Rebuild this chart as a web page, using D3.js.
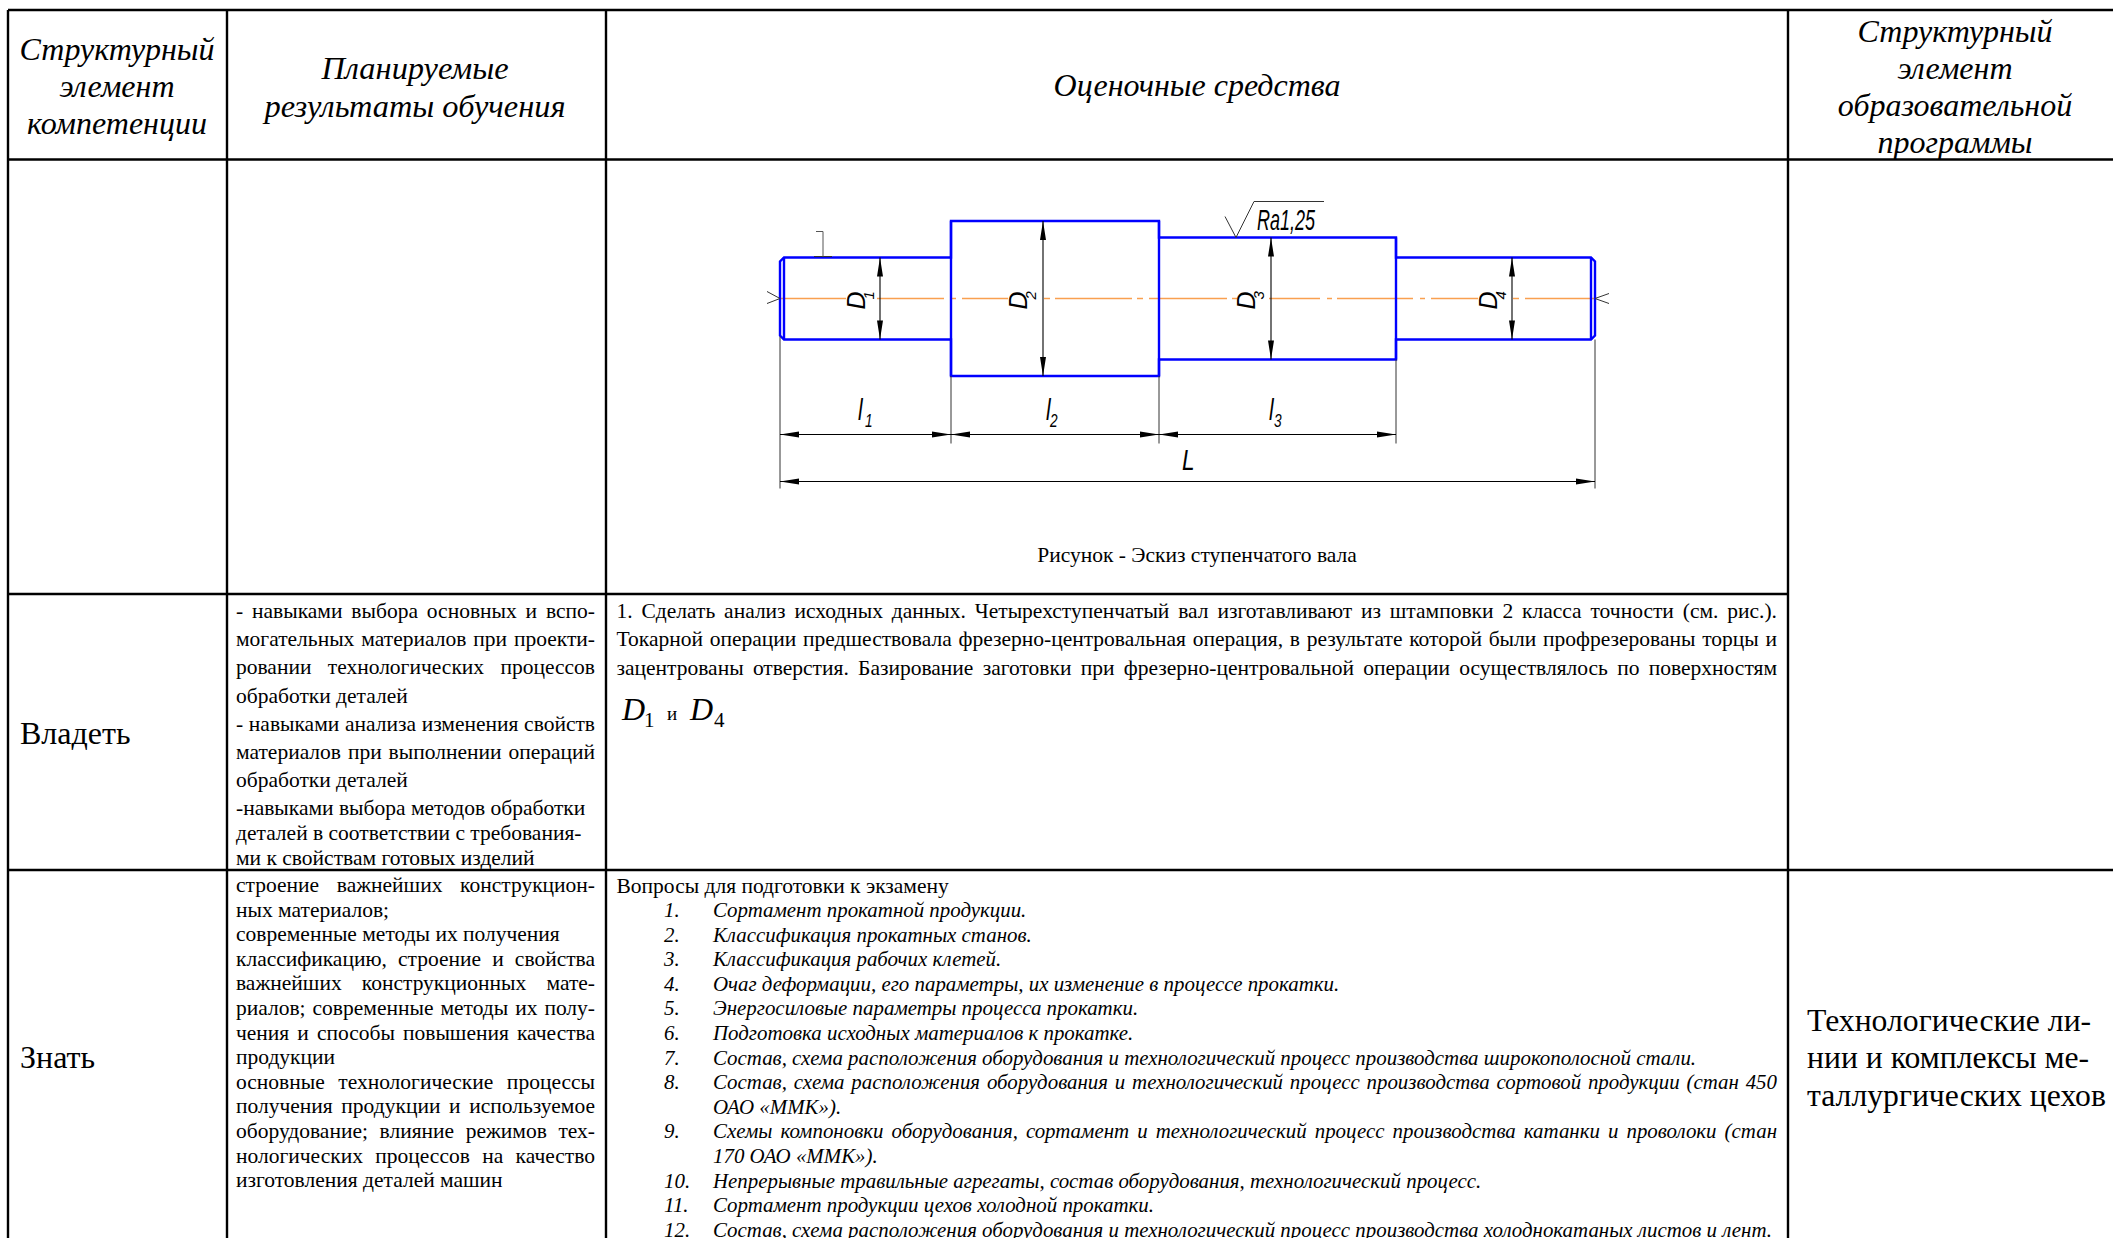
<!DOCTYPE html>
<html><head><meta charset="utf-8">
<script src="https://cdnjs.cloudflare.com/ajax/libs/d3/7.8.5/d3.min.js"></script>
<style>html,body{margin:0;padding:0;background:#fff}svg{display:block}text{font-family:"Liberation Serif","Times New Roman",serif;fill:#000}</style>
</head><body><svg id="c" width="2113" height="1238"></svg>
<script>
// ---------- table text ----------
const headerElement = ["Структурный","элемент","компетенции"];
const headerResults = ["Планируемые","результаты обучения"];
const headerTools = ["Оценочные средства"];
const headerProgram = ["Структурный","элемент","образовательной","программы"];
const rowNames = ["Владеть","Знать"];
const ownResults = ["- навыками выбора основных и вспо-","могательных материалов при проекти-","ровании технологических процессов","обработки деталей","- навыками анализа изменения свойств","материалов при выполнении операций","обработки деталей","-навыками выбора методов обработки","деталей в соответствии с требования-","ми к свойствам готовых изделий"];
const ownResultsJustified = [0,1,2,4,5];
const ownTask = ["1. Сделать анализ исходных данных. Четырехступенчатый вал изготавливают  из штамповки 2 класса точности (см. рис.).","Токарной операции предшествовала фрезерно-центровальная операция, в результате которой были профрезерованы торцы и","зацентрованы отверстия. Базирование заготовки при фрезерно-центровальной операции осуществлялось по поверхностям"];
const knowResults = ["строение важнейших конструкцион-","ных материалов;","современные методы их получения","классификацию, строение и свойства","важнейших конструкционных мате-","риалов; современные методы их полу-","чения и способы повышения качества","продукции","основные технологические процессы","получения продукции и используемое","оборудование; влияние режимов тех-","нологических процессов на качество","изготовления деталей машин"];
const knowResultsJustified = [0,3,4,5,6,8,9,10,11];
const questionsTitle = "Вопросы для подготовки к экзамену";
const questionNumbers = ["1.","2.","3.","4.","5.","6.","7.","8.","","9.","","10.","11.","12."];
const questionLines = ["Сортамент прокатной продукции.","Классификация прокатных станов.","Классификация рабочих клетей.","Очаг деформации, его параметры, их изменение в процессе прокатки.","Энергосиловые параметры процесса прокатки.","Подготовка исходных материалов к прокатке.","Состав, схема расположения оборудования и технологический процесс производства широкополосной стали.","Состав, схема расположения оборудования и технологический процесс производства сортовой продукции (стан 450","ОАО «ММК»).","Схемы компоновки оборудования, сортамент и технологический процесс производства катанки и проволоки (стан","170 ОАО «ММК»).","Непрерывные травильные агрегаты, состав оборудования, технологический процесс.","Сортамент продукции цехов холодной прокатки.","Состав, схема расположения оборудования и технологический процесс производства холоднокатаных листов и лент."];
const questionJustified = [7,9];
const programCell = ["Технологические ли-","нии и комплексы ме-","таллургических цехов"];
const figureCaption = "Рисунок - Эскиз ступенчатого вала";
// ---------- shaft drawing data (drawing units) ----------
const shaftStations = [0,171,379,616,815];
const shaftDiameters = [82,155,122,82];
const dimMarkOffsets = [100,263,491,732];
const stepLabels = ["1","2","3","4"];
const diameterLabelOffsets = [85,247,475,717];
const lengthLabels = ["1","2","3"];
const lengthLabelOffsets = [78,266,489];
const centerDashes = [[0,66],[97,164],[172,176],[182,228],[264,270],[275,352],[357,363],[369,447],[452,457],[489,540],[547,552],[557,633],[640,645],[651,698],[733,739],[745,815]];
const ChamferSize = 4;
// ---------- layout ----------
const W=2113,H=1238;
const colX=[8,227,606,1788], rowY=[10,159.5,594,870];
const svg=d3.select("#c");
const x=d3.scaleLinear().domain([0,815]).range([780,1595]);
const y=d3.scaleLinear().domain([-100,100]).range([198.5,398.5]);
const BLUE="#0000ff", ORANGE="#f9a050";

function block(lines,o){
  const g=svg.append("g").attr("font-size",o.size).attr("font-style",o.italic?"italic":null);
  g.selectAll("text").data(lines).join("text")
   .attr("x",o.x)
   .attr("y",(d,i)=>o.ys?o.ys[i]:o.y+i*o.step)
   .attr("text-anchor",o.anchor||"start")
   .text(d=>d)
   .each(function(d,i){
     if(o.justify&&o.justify.includes(i)&&o.width){
       const gaps=d.trim().split(/\s+/).length-1;
       const len=this.getComputedTextLength();
       if(gaps>0) d3.select(this).style("word-spacing",((o.width-len)/gaps)+"px");
     }
   });
  return g;
}
// table rules
const rules=svg.append("g").attr("stroke","#000").attr("stroke-width",2.4);
const hRules=[[colX[0],W,rowY[0]],[colX[0],W,rowY[1]],[colX[0],colX[3],rowY[2]],[colX[0],W,rowY[3]]];
rules.selectAll(".h").data(hRules).join("line").attr("x1",d=>d[0]).attr("x2",d=>d[1]).attr("y1",d=>d[2]).attr("y2",d=>d[2]);
rules.selectAll(".v").data(colX).join("line").attr("x1",d=>d).attr("x2",d=>d).attr("y1",rowY[0]).attr("y2",H);
// headers
block(headerElement,{x:117,y:60,step:37,size:32,italic:true,anchor:"middle"});
block(headerResults,{x:415,y:79,step:38,size:32.4,italic:true,anchor:"middle"});
block(headerTools,{x:1197,y:96,step:0,size:32,italic:true,anchor:"middle"});
block(headerProgram,{x:1955,y:42,step:37,size:32,italic:true,anchor:"middle"});
// row names
block([rowNames[0]],{x:20,y:744,step:0,size:32});
block([rowNames[1]],{x:20,y:1068,step:0,size:32});
// results
const BODY=21.5, ITAL=20.9;
block(ownResults,{x:236,ys:[618,646,674,703,731,759,787,815,840,865],size:BODY,justify:ownResultsJustified,width:359});
block(knowResults,{x:236,y:892,step:24.6,size:BODY,justify:knowResultsJustified,width:359});
// tools cell
block(ownTask,{x:616.5,y:618,step:28.3,size:BODY,justify:[0,1,2],width:1160.5});
const f=svg.append("g");
[["D",622,32,720,true],["1",644,21,727],["и",667,19,720],["D",690,32,720,true],["4",714,21,727]].forEach(a=>{
  f.append("text").attr("x",a[1]).attr("y",a[3]).attr("font-size",a[2]).attr("font-style",a[4]?"italic":null).text(a[0]);
});
block([figureCaption],{x:1197,y:562,step:0,size:BODY,anchor:"middle"});
block([questionsTitle],{x:616.5,y:893,step:0,size:BODY});
block(questionNumbers,{x:664,y:917,step:24.6,size:ITAL,italic:true});
block(questionLines,{x:713,y:917,step:24.6,size:ITAL,italic:true,justify:questionJustified,width:1064});
block(programCell,{x:1807,y:1031,step:37.4,size:31.7});

// ---------- shaft ----------
const d=svg.append("g");
const half=i=>shaftDiameters[i]/2;
const L=shaftStations[4];
d.append("g").attr("stroke",ORANGE).attr("stroke-width",1.5).selectAll("line").data(centerDashes).join("line")
 .attr("x1",s=>x(s[0])).attr("x2",s=>x(s[1])).attr("y1",y(0)).attr("y2",y(0));
const outline=d3.path();
outline.moveTo(x(ChamferSize),y(-half(0)));
shaftDiameters.forEach((dm,i)=>{
  const h=dm/2;
  const x0=shaftStations[i], x1=shaftStations[i+1];
  if(i>0){outline.lineTo(x(x0),y(-h));}
  if(i<3){outline.lineTo(x(x1),y(-h));}
});
outline.lineTo(x(L-ChamferSize),y(-half(3)));
outline.lineTo(x(L),y(-half(3)+ChamferSize));
outline.lineTo(x(L),y(half(3)-ChamferSize));
outline.lineTo(x(L-ChamferSize),y(half(3)));
for(let i=3;i>=0;i--){
  const h=half(i);
  if(i<3) outline.lineTo(x(shaftStations[i+1]),y(h));
  if(i>0) outline.lineTo(x(shaftStations[i]),y(h));
}
outline.lineTo(x(ChamferSize),y(half(0)));
outline.lineTo(x(0),y(half(0)-ChamferSize));
outline.lineTo(x(0),y(-half(0)+ChamferSize));
outline.closePath();
d.append("path").attr("d",outline.toString()).attr("fill","none").attr("stroke",BLUE).attr("stroke-width",2.4);
const innerLines=[[shaftStations[1],half(1)],[shaftStations[2],half(1)],[shaftStations[3],half(2)],[ChamferSize,half(0)],[L-ChamferSize,half(3)]];
d.append("g").attr("stroke",BLUE).attr("stroke-width",2.4).selectAll("line").data(innerLines).join("line")
 .attr("x1",s=>x(s[0])).attr("x2",s=>x(s[0])).attr("y1",s=>y(-s[1])).attr("y2",s=>y(s[1]));
const dimY1=136, dimY2=183;
const ext=[[0,half(0)-3,dimY2+7],[shaftStations[1],half(1),dimY1+9],[shaftStations[2],half(1),dimY1+9],[shaftStations[3],half(2),dimY1+9],[L,half(3),dimY2+7]];
d.append("g").attr("stroke","#333").attr("stroke-width",1).selectAll("line").data(ext).join("line")
 .attr("x1",s=>x(s[0])).attr("x2",s=>x(s[0])).attr("y1",s=>y(s[1])).attr("y2",s=>y(s[2]));
const ah=19, aw=3;
function arrowH(px,py,dir){return `M${px},${py}L${px+dir*ah},${py-aw}L${px+dir*ah},${py+aw}Z`;}
function arrowV(px,py,dir){return `M${px},${py}L${px-aw},${py+dir*ah}L${px+aw},${py+dir*ah}Z`;}
const hDims=[[0,shaftStations[1],dimY1],[shaftStations[1],shaftStations[2],dimY1],[shaftStations[2],shaftStations[3],dimY1],[0,L,dimY2]];
const dimG=d.append("g");
hDims.forEach(s=>{
  dimG.append("line").attr("x1",x(s[0])).attr("x2",x(s[1])).attr("y1",y(s[2])).attr("y2",y(s[2])).attr("stroke","#000").attr("stroke-width",1.1);
  dimG.append("path").attr("d",arrowH(x(s[0]),y(s[2]),1)+arrowH(x(s[1]),y(s[2]),-1));
});
dimMarkOffsets.forEach((m,i)=>{
  const h=half(i);
  dimG.append("line").attr("x1",x(m)).attr("x2",x(m)).attr("y1",y(-h)).attr("y2",y(h)).attr("stroke","#000").attr("stroke-width",1.1);
  dimG.append("path").attr("d",arrowV(x(m),y(-h),1)+arrowV(x(m),y(h),-1));
});
const sans=`"Liberation Sans",Arial,sans-serif`;
function lbl(t,px,py,size,rot,sx){
  return d.append("text").style("font-family",sans).attr("font-style","italic").attr("font-size",size)
   .attr("transform",`translate(${px},${py})`+(rot?` rotate(${rot})`:"")+(sx?` scale(${sx},1)`:"")).text(t);
}
diameterLabelOffsets.forEach((m,i)=>{
  lbl("D",x(m),y(11),25,-90);
  lbl(stepLabels[i],x(m)+9,y(1),15,-90);
});
lengthLabelOffsets.forEach((m,i)=>{
  lbl("l",x(m),y(121),29,0,0.72);
  lbl(lengthLabels[i],x(m)+(i===0?7:3+i),y(128),19,0,0.72);
});
lbl("L",x(402),y(171),29,0,0.78);
lbl("Ra1,25",x(477),y(-69),29).attr("textLength",58).attr("lengthAdjust","spacingAndGlyphs");
const line=d3.line().x(p=>x(p[0])).y(p=>y(p[1]));
const marks=[
 {pts:[[445,-82],[456,-61],[474,-97],[544,-97]],c:"#333"},
 {pts:[[34,-42],[52,-42]],c:"#333"},
 {pts:[[36,-67],[43,-67],[43,-42]],c:"#555"},
 {pts:[[-13,-7],[0,0],[-13,5]],c:"#333"},
 {pts:[[829,-5],[815,0],[829,5]],c:"#333"}
];
d.append("g").attr("fill","none").selectAll("path").data(marks).join("path").attr("d",m=>line(m.pts)).attr("stroke",m=>m.c).attr("stroke-width",1);
</script></body></html>
